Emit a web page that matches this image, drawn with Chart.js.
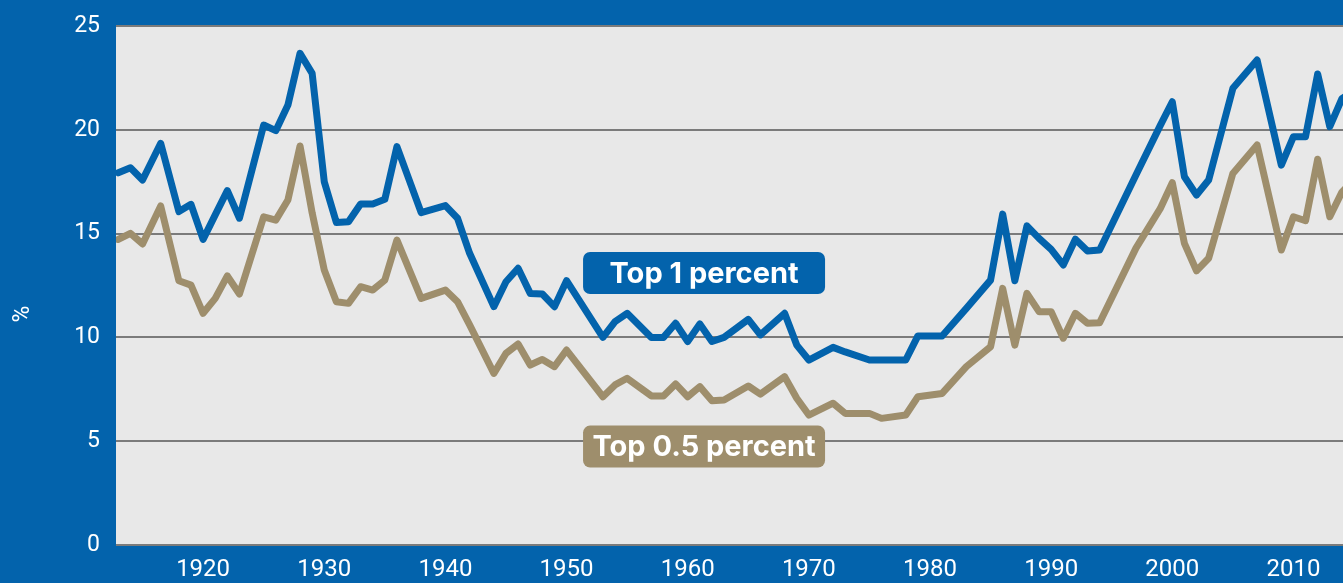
<!DOCTYPE html>
<html><head><meta charset="utf-8">
<script src="https://cdn.jsdelivr.net/npm/chart.js@4.4.1/dist/chart.umd.min.js"></script>
<style>
html,body{margin:0;padding:0;background:#0363AC;overflow:hidden}
#wrap{width:1343px;height:583px;position:relative}
canvas{display:block}
</style></head>
<body><div id="wrap"><canvas id="c" width="1343" height="583"></canvas></div>
<script>
// ---- data ----
const years = [1913,1914,1915,1916.5,1918,1919,1920,1921,1922,1923,1925,1926,1927,1928,1929,1930,1931,1932,1933,1934,1935,1936,1938,1940,1941,1942,1944,1945,1946,1947,1948,1949,1950,1953,1954,1955,1957,1958,1959,1960,1961,1962,1963,1965,1966,1968,1969,1970,1972,1973,1975,1976,1978,1979,1981,1983,1985,1986,1987,1988,1989,1990,1991,1992,1993,1994,1997,1999,2000,2001,2002,2003,2005,2007,2009,2010,2011,2012,2013,2014,2015];
const top1 = [17.93,18.17,17.58,19.35,16.06,16.41,14.72,15.9,17.07,15.74,20.23,19.96,21.19,23.68,22.72,17.5,15.53,15.57,16.43,16.43,16.65,19.19,16.01,16.35,15.74,14.05,11.48,12.68,13.33,12.12,12.09,11.48,12.73,10.0,10.76,11.16,10.0,10.0,10.68,9.8,10.65,9.8,10.0,10.87,10.12,11.16,9.63,8.91,9.52,9.3,8.91,8.91,8.91,10.07,10.07,11.4,12.76,15.94,12.73,15.37,14.77,14.24,13.49,14.73,14.16,14.21,17.82,20.2,21.35,17.74,16.86,17.58,22.0,23.36,18.3,19.67,19.67,22.69,20.15,21.5,21.9];
const top05 = [14.72,15.01,14.5,16.33,12.73,12.52,11.16,11.88,12.96,12.09,15.81,15.65,16.62,19.22,16.0,13.25,11.72,11.64,12.44,12.28,12.76,14.69,11.88,12.28,11.72,10.6,8.27,9.23,9.68,8.67,8.94,8.59,9.39,7.14,7.71,8.03,7.18,7.18,7.76,7.14,7.63,6.95,6.98,7.66,7.27,8.11,7.07,6.26,6.83,6.34,6.34,6.1,6.26,7.14,7.3,8.59,9.55,12.36,9.63,12.12,11.24,11.24,9.96,11.16,10.68,10.71,14.3,16.2,17.45,14.53,13.21,13.81,17.9,19.27,14.21,15.81,15.62,18.58,15.81,17.0,17.6];
const seriesNames = ['Top 1 percent', 'Top 0.5 percent'];
const xTickYears = [1920,1930,1940,1950,1960,1970,1980,1990,2000,2010];
const yTickValues = [0,5,10,15,20,25];
const yAxisTitle = '%';
// label anchors (data coordinates: year, percent)
const labelYears = [1961.35, 1961.35];
const labelValues = [13.1, 4.74];

// ---- styles ----
const BLUE = '#0363AC';
const TAN = '#9E8E6C';
const PLOT_BG = '#E8E8E8';
const GRID = '#7B7B7B';

Chart.defaults.font.family = 'Roboto, "Liberation Sans", sans-serif';

const bgPlugin = {
  id: 'bg',
  beforeDraw(chart) {
    const {ctx, chartArea: a} = chart;
    ctx.save();
    ctx.fillStyle = BLUE;
    ctx.fillRect(0, 0, chart.width, chart.height);
    ctx.fillStyle = PLOT_BG;
    ctx.fillRect(a.left, a.top, a.right - a.left, a.bottom - a.top);
    ctx.restore();
  }
};

const tagPlugin = {
  id: 'tags',
  afterDatasetsDraw(chart) {
    const {ctx} = chart;
    const xs = chart.scales.x, ys = chart.scales.y;
    const colors = [BLUE, TAN];
    const w = 242, h = 42, r = 7;
    ctx.save();
    seriesNames.forEach((name, i) => {
      const cx = xs.getPixelForValue(labelYears[i]);
      const cy = ys.getPixelForValue(labelValues[i]);
      ctx.beginPath();
      ctx.roundRect(cx - w / 2, cy - h / 2, w, h, r);
      ctx.fillStyle = colors[i];
      ctx.fill();
      ctx.fillStyle = '#FFFFFF';
      ctx.font = 'bold 29px Inter, Roboto, sans-serif';
      ctx.textAlign = 'center';
      ctx.textBaseline = 'middle';
      ctx.fillText(name, cx, cy + 1);
    });
    ctx.restore();
  }
};

new Chart(document.getElementById('c'), {
  type: 'line',
  data: {
    datasets: [
      {
        label: seriesNames[0],
        data: years.map((y, i) => ({x: y, y: top1[i]})),
        borderColor: BLUE,
        borderWidth: 7,
        pointRadius: 0,
        tension: 0,
        borderJoinStyle: 'round',
        borderCapStyle: 'round'
      },
      {
        label: seriesNames[1],
        data: years.map((y, i) => ({x: y, y: top05[i]})),
        borderColor: TAN,
        borderWidth: 7,
        pointRadius: 0,
        tension: 0,
        borderJoinStyle: 'round',
        borderCapStyle: 'round'
      }
    ]
  },
  options: {
    responsive: false,
    animation: false,
    devicePixelRatio: 1,
    layout: {padding: {top: 26, right: 0, bottom: 0, left: 0}},
    plugins: {legend: {display: false}, tooltip: {enabled: false}, title: {display: false}},
    scales: {
      x: {
        type: 'linear',
        min: 1912.81,
        max: 2014.09,
        afterBuildTicks: s => { s.ticks = xTickYears.map(v => ({value: v})); },
        afterFit: s => { s.height = 38; s.paddingLeft = 0; s.paddingRight = 0; },
        grid: {display: false, drawTicks: false},
        border: {display: false},
        ticks: {
          color: '#FFFFFF',
          font: {size: 24},
          padding: 11,
          maxRotation: 0,
          autoSkip: false,
          callback: v => String(v)
        }
      },
      y: {
        min: 0,
        max: 25,
        afterBuildTicks: s => { s.ticks = yTickValues.map(v => ({value: v})); },
        afterFit: s => { s.width = 116; s.paddingTop = 0; s.paddingBottom = 0; },
        grid: {color: GRID, lineWidth: 2, drawTicks: false},
        border: {display: false},
        ticks: {color: '#FFFFFF', font: {size: 23}, padding: 16, callback: v => String(v)},
        title: {
          display: true,
          text: yAxisTitle + '\u00A0\u00A0\u00A0\u00A0\u00A0\u00A0\u00A0\u00A0\u00A0\u00A0',
          color: '#FFFFFF',
          font: {size: 23},
          padding: {top: 9, bottom: 0}
        }
      }
    }
  },
  plugins: [bgPlugin, tagPlugin]
});
</script>
</body></html>
